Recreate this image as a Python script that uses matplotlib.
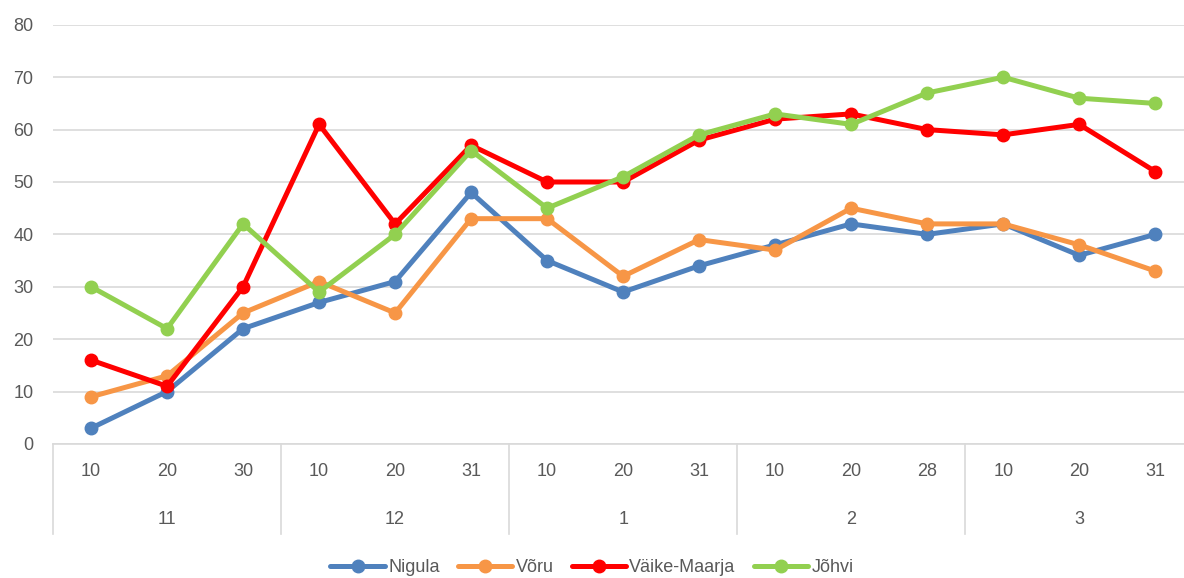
import numpy as np
import matplotlib
matplotlib.use("Agg")
import matplotlib.pyplot as plt
import matplotlib.transforms as mtransforms

plt.rcParams['font.family'] = ['Liberation Sans Narrow', 'Liberation Sans', 'DejaVu Sans']

# data
days = ['10', '20', '30', '10', '20', '31', '10', '20', '31', '10', '20', '28', '10', '20', '31']
months = ['11', '12', '1', '2', '3']
nigula = [3, 10, 22, 27, 31, 48, 35, 29, 34, 38, 42, 40, 42, 36, 40]
voru = [9, 13, 25, 31, 25, 43, 43, 32, 39, 37, 45, 42, 42, 38, 33]
vaike_maarja = [16, 11, 30, 61, 42, 57, 50, 50, 58, 62, 63, 60, 59, 61, 52]
johvi = [30, 22, 42, 29, 40, 56, 45, 51, 59, 63, 61, 67, 70, 66, 65]

series = [
    ('Nigula', nigula, '#4F81BD'),
    ('Võru', voru, '#F79646'),
    ('Väike-Maarja', vaike_maarja, '#FF0000'),
    ('Jõhvi', johvi, '#92D050'),
]

fig = plt.figure(figsize=(11.84, 5.78), dpi=100)
# axes runs slightly past the right edge, like the original
ax = fig.add_axes([0.0448, 0.232, 0.963, 0.725])

x = np.arange(len(days))
for name, vals, col in series:
    ax.plot(x, vals, color=col, lw=3.6, marker='o', ms=9, label=name, solid_capstyle='round')

ax.set_xlim(-0.5, len(days) - 0.5)
ax.set_ylim(0, 80)
ax.set_yticks(range(0, 81, 10))
ax.yaxis.grid(True, color='#D9D9D9', lw=1.2)
ax.set_axisbelow(True)
for s in ['top', 'right', 'left']:
    ax.spines[s].set_visible(False)
ax.spines['bottom'].set_color('#D9D9D9')
ax.spines['bottom'].set_linewidth(1.2)

ax.set_xticks(x)
ax.set_xticklabels(days)
ax.tick_params(axis='x', length=0, pad=14, labelsize=13, labelcolor='#595959')
ax.tick_params(axis='y', length=0, pad=14, labelsize=13, labelcolor='#595959')

# month group separators and labels
trans = mtransforms.blended_transform_factory(ax.transData, ax.transAxes)
for b in np.arange(-0.5, len(days), 3):
    ax.plot([b, b], [0, -0.215], transform=trans, color='#D9D9D9', lw=1.2, clip_on=False)
for i, m in enumerate(months):
    ax.text(i * 3 + 1, -0.18, m, transform=trans, ha='center', va='center',
            fontsize=13, color='#595959')

leg = fig.legend(loc='lower center', bbox_to_anchor=(0.5, -0.025), ncol=4, frameon=False,
                 fontsize=13, handlelength=3, columnspacing=1.0, handletextpad=0.2)
for t in leg.get_texts():
    t.set_color('#595959')

fig.savefig('out.png', dpi=100)
